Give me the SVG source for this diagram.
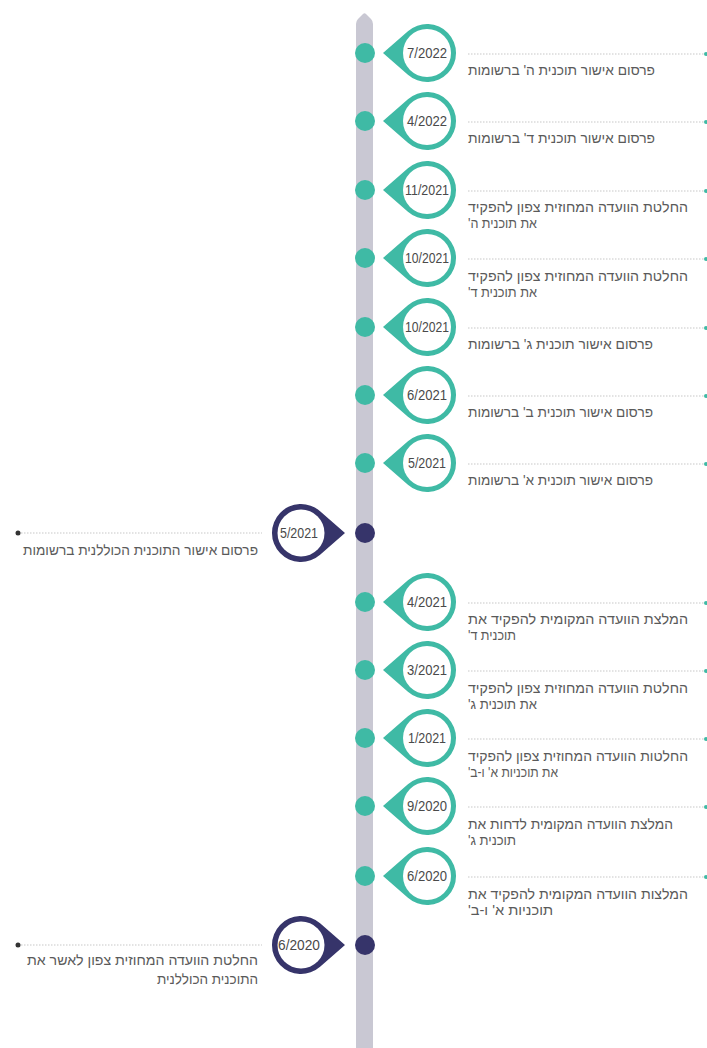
<svg xmlns="http://www.w3.org/2000/svg" width="707" height="1048" viewBox="0 0 707 1048">
<style>
.desc{font-family:"Liberation Sans","DejaVu Sans",sans-serif;font-size:14px;fill:#5a5a5a;direction:rtl}
.date{font-family:"Liberation Sans","DejaVu Sans",sans-serif;font-size:14px;fill:#4a4a4a;text-anchor:middle}
.dl{stroke:#c8c8c8;stroke-width:1.2;stroke-dasharray:1.5 1.5;fill:none}
.teal{fill:#3fbaa5}
.navy{fill:#36346a}
</style>
<defs>
<path id="pinL" d="M-44,0 L-19.1,-21.8 A29,29 0 1 1 -19.1,21.8 Z" fill="#3fbaa5"/>
<path id="pinR" d="M44,0 L19.1,-21.8 A29,29 0 1 0 19.1,21.8 Z" fill="#36346a"/>
</defs>
<rect width="707" height="1048" fill="#ffffff"/>
<g id="bar">
<path d="M356,24 Q356,21 358,19 L363,14 Q364.5,12.5 366,14 L371,19 Q373,21 373,24 L373,1048 L356,1048 Z" fill="#c9c8d3"/>
</g>
<g id="connectors">
<line class="dl" x1="468" y1="54" x2="705" y2="54"/>
<line class="dl" x1="468" y1="122" x2="705" y2="122"/>
<line class="dl" x1="468" y1="191" x2="705" y2="191"/>
<line class="dl" x1="468" y1="259" x2="705" y2="259"/>
<line class="dl" x1="468" y1="328" x2="705" y2="328"/>
<line class="dl" x1="468" y1="396" x2="705" y2="396"/>
<line class="dl" x1="468" y1="464" x2="705" y2="464"/>
<line class="dl" x1="468" y1="603" x2="705" y2="603"/>
<line class="dl" x1="468" y1="671" x2="705" y2="671"/>
<line class="dl" x1="468" y1="739" x2="705" y2="739"/>
<line class="dl" x1="468" y1="807" x2="705" y2="807"/>
<line class="dl" x1="468" y1="877" x2="705" y2="877"/>
<line class="dl" x1="18" y1="533" x2="262" y2="533"/>
<line class="dl" x1="18" y1="945" x2="262" y2="945"/>
<g class="teal">
<circle cx="706" cy="54" r="2"/><circle cx="706" cy="122" r="2"/><circle cx="706" cy="191" r="2"/><circle cx="706" cy="259" r="2"/><circle cx="706" cy="328" r="2"/><circle cx="706" cy="396" r="2"/><circle cx="706" cy="464" r="2"/><circle cx="706" cy="603" r="2"/><circle cx="706" cy="671" r="2"/><circle cx="706" cy="739" r="2"/><circle cx="706" cy="807" r="2"/><circle cx="706" cy="877" r="2"/>
</g>
<circle cx="18" cy="533" r="2.5" fill="#333"/>
<circle cx="18" cy="945" r="2.5" fill="#333"/>
</g>
<g id="n1" transform="translate(0,53)">
<circle class="teal" cx="365" cy="0" r="10"/><use href="#pinL" x="427"/><circle cx="427" cy="0" r="24" fill="#fff"/>
<text class="date" x="427" y="5" textLength="40" lengthAdjust="spacingAndGlyphs">7/2022</text>
<text class="desc" x="468" y="22" text-anchor="end" textLength="187" lengthAdjust="spacingAndGlyphs">פרסום אישור תוכנית ה' ברשומות</text>
</g>
<g id="n2" transform="translate(0,121)">
<circle class="teal" cx="365" cy="0" r="10"/><use href="#pinL" x="427"/><circle cx="427" cy="0" r="24" fill="#fff"/>
<text class="date" x="427" y="5" textLength="40" lengthAdjust="spacingAndGlyphs">4/2022</text>
<text class="desc" x="468" y="22" text-anchor="end" textLength="187" lengthAdjust="spacingAndGlyphs">פרסום אישור תוכנית ד' ברשומות</text>
</g>
<g id="n3" transform="translate(0,190)">
<circle class="teal" cx="365" cy="0" r="10"/><use href="#pinL" x="427"/><circle cx="427" cy="0" r="24" fill="#fff"/>
<text class="date" x="427" y="5" textLength="44" lengthAdjust="spacingAndGlyphs">11/2021</text>
<text class="desc" x="468" y="22" text-anchor="end" textLength="220" lengthAdjust="spacingAndGlyphs">החלטת הוועדה המחוזית צפון להפקיד</text>
<text class="desc" x="468" y="38" text-anchor="end" textLength="69" lengthAdjust="spacingAndGlyphs">את תוכנית ה'</text>
</g>
<g id="n4" transform="translate(0,258)">
<circle class="teal" cx="365" cy="0" r="10"/><use href="#pinL" x="427"/><circle cx="427" cy="0" r="24" fill="#fff"/>
<text class="date" x="427" y="5" textLength="44" lengthAdjust="spacingAndGlyphs">10/2021</text>
<text class="desc" x="468" y="23" text-anchor="end" textLength="220" lengthAdjust="spacingAndGlyphs">החלטת הוועדה המחוזית צפון להפקיד</text>
<text class="desc" x="468" y="39" text-anchor="end" textLength="69" lengthAdjust="spacingAndGlyphs">את תוכנית ד'</text>
</g>
<g id="n5" transform="translate(0,327)">
<circle class="teal" cx="365" cy="0" r="10"/><use href="#pinL" x="427"/><circle cx="427" cy="0" r="24" fill="#fff"/>
<text class="date" x="427" y="5" textLength="44" lengthAdjust="spacingAndGlyphs">10/2021</text>
<text class="desc" x="468" y="22" text-anchor="end" textLength="185" lengthAdjust="spacingAndGlyphs">פרסום אישור תוכנית ג' ברשומות</text>
</g>
<g id="n6" transform="translate(0,395)">
<circle class="teal" cx="365" cy="0" r="10"/><use href="#pinL" x="427"/><circle cx="427" cy="0" r="24" fill="#fff"/>
<text class="date" x="427" y="5" textLength="40" lengthAdjust="spacingAndGlyphs">6/2021</text>
<text class="desc" x="468" y="22" text-anchor="end" textLength="185" lengthAdjust="spacingAndGlyphs">פרסום אישור תוכנית ב' ברשומות</text>
</g>
<g id="n7" transform="translate(0,463)">
<circle class="teal" cx="365" cy="0" r="10"/><use href="#pinL" x="427"/><circle cx="427" cy="0" r="24" fill="#fff"/>
<text class="date" x="427" y="5" textLength="38" lengthAdjust="spacingAndGlyphs">5/2021</text>
<text class="desc" x="468" y="22" text-anchor="end" textLength="185" lengthAdjust="spacingAndGlyphs">פרסום אישור תוכנית א' ברשומות</text>
</g>
<g id="n8" transform="translate(0,533)">
<circle class="navy" cx="365" cy="0" r="10"/><use href="#pinR" x="301"/><circle cx="301" cy="0" r="23.5" fill="#fff"/>
<text class="date" x="299" y="5" textLength="38" lengthAdjust="spacingAndGlyphs">5/2021</text>
<text class="desc" x="258" y="22" text-anchor="start" textLength="235" lengthAdjust="spacingAndGlyphs">פרסום אישור התוכנית הכוללנית ברשומות</text>
</g>
<g id="n9" transform="translate(0,602)">
<circle class="teal" cx="365" cy="0" r="10"/><use href="#pinL" x="427"/><circle cx="427" cy="0" r="24" fill="#fff"/>
<text class="date" x="427" y="5" textLength="40" lengthAdjust="spacingAndGlyphs">4/2021</text>
<text class="desc" x="468" y="22" text-anchor="end" textLength="220" lengthAdjust="spacingAndGlyphs">המלצת הוועדה המקומית להפקיד את</text>
<text class="desc" x="468" y="38" text-anchor="end" textLength="48" lengthAdjust="spacingAndGlyphs">תוכנית ד'</text>
</g>
<g id="n10" transform="translate(0,670)">
<circle class="teal" cx="365" cy="0" r="10"/><use href="#pinL" x="427"/><circle cx="427" cy="0" r="24" fill="#fff"/>
<text class="date" x="427" y="5" textLength="40" lengthAdjust="spacingAndGlyphs">3/2021</text>
<text class="desc" x="468" y="23" text-anchor="end" textLength="220" lengthAdjust="spacingAndGlyphs">החלטת הוועדה המחוזית צפון להפקיד</text>
<text class="desc" x="468" y="39" text-anchor="end" textLength="69" lengthAdjust="spacingAndGlyphs">את תוכנית ג'</text>
</g>
<g id="n11" transform="translate(0,738)">
<circle class="teal" cx="365" cy="0" r="10"/><use href="#pinL" x="427"/><circle cx="427" cy="0" r="24" fill="#fff"/>
<text class="date" x="427" y="5" textLength="38" lengthAdjust="spacingAndGlyphs">1/2021</text>
<text class="desc" x="468" y="23" text-anchor="end" textLength="220" lengthAdjust="spacingAndGlyphs">החלטות הוועדה המחוזית צפון להפקיד</text>
<text class="desc" x="468" y="39" text-anchor="end" textLength="90" lengthAdjust="spacingAndGlyphs">את תוכניות א' ו-ב'</text>
</g>
<g id="n12" transform="translate(0,806)">
<circle class="teal" cx="365" cy="0" r="10"/><use href="#pinL" x="427"/><circle cx="427" cy="0" r="24" fill="#fff"/>
<text class="date" x="427" y="5" textLength="40" lengthAdjust="spacingAndGlyphs">9/2020</text>
<text class="desc" x="468" y="23" text-anchor="end" textLength="205" lengthAdjust="spacingAndGlyphs">המלצת הוועדה המקומית לדחות את</text>
<text class="desc" x="468" y="39" text-anchor="end" textLength="48" lengthAdjust="spacingAndGlyphs">תוכנית ג'</text>
</g>
<g id="n13" transform="translate(0,876)">
<circle class="teal" cx="365" cy="0" r="10"/><use href="#pinL" x="427"/><circle cx="427" cy="0" r="24" fill="#fff"/>
<text class="date" x="427" y="5" textLength="40" lengthAdjust="spacingAndGlyphs">6/2020</text>
<text class="desc" x="468" y="23" text-anchor="end" textLength="220" lengthAdjust="spacingAndGlyphs">המלצות הוועדה המקומית להפקיד את</text>
<text class="desc" x="468" y="39" text-anchor="end" textLength="85" lengthAdjust="spacingAndGlyphs">תוכניות א' ו-ב'</text>
</g>
<g id="n14" transform="translate(0,945)">
<circle class="navy" cx="365" cy="0" r="10"/><use href="#pinR" x="301"/><circle cx="301" cy="0" r="23.5" fill="#fff"/>
<text class="date" x="299" y="5" textLength="42" lengthAdjust="spacingAndGlyphs">6/2020</text>
<text class="desc" x="258" y="20" text-anchor="start" textLength="231" lengthAdjust="spacingAndGlyphs">החלטת הוועדה המחוזית צפון לאשר את</text>
<text class="desc" x="258" y="39" text-anchor="start" textLength="101" lengthAdjust="spacingAndGlyphs">התוכנית הכוללנית</text>
</g>
</svg>
